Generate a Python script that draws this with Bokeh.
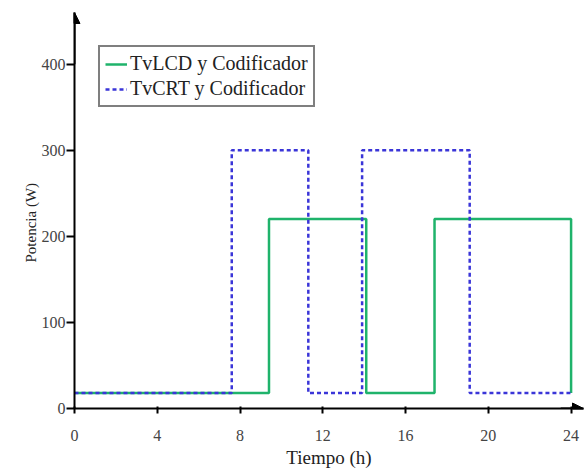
from bokeh.plotting import figure
from bokeh.models import Range1d, Arrow, NormalHead, Legend, LegendItem, FixedTicker, Title
from bokeh.embed import file_html
from bokeh.resources import INLINE

# Data (hours, watts)
lcd_t = [0, 9.4, 14.1, 17.4, 24]
lcd_p = [18, 220, 18, 220, 18]
crt_t = [0, 7.6, 11.3, 13.9, 19.1, 24]
crt_p = [18, 300, 18, 300, 18, 18]
x_ticks = [0, 4, 8, 12, 16, 20, 24]
y_ticks = [0, 100, 200, 300, 400]

FONT = "Liberation Serif"

p = figure(width=585, height=470, output_backend="svg", toolbar_location=None,
           x_range=Range1d(0, 24.6), y_range=Range1d(0, 460),
           min_border_left=74, min_border_right=2, min_border_top=12, min_border_bottom=61)
p.outline_line_color = None
p.grid.visible = False
p.background_fill_color = "white"

for ax in (p.xaxis[0], p.yaxis[0]):
    ax.axis_line_width = 2
    ax.axis_line_color = "black"
    ax.major_tick_line_color = "black"
    ax.major_tick_line_width = 2
    ax.minor_tick_line_color = None
    ax.major_label_text_font = FONT
    ax.major_label_text_font_size = "16px"
    ax.major_label_text_color = "#444444"
    ax.axis_label_text_font = FONT
    ax.axis_label_text_font_style = "normal"
    ax.axis_label_text_color = "#222222"

p.xaxis.ticker = FixedTicker(ticks=x_ticks)
p.yaxis.ticker = FixedTicker(ticks=y_ticks)
p.xaxis.major_tick_out = 5
p.xaxis.major_tick_in = 2
p.yaxis.major_tick_out = 8
p.yaxis.major_tick_in = 0
p.xaxis.major_label_standoff = 16
p.yaxis.major_label_standoff = 1
p.xaxis.axis_label = "Tiempo (h)"
p.xaxis.axis_label_text_font_size = "19px"
p.xaxis.axis_label_standoff = 3

p.add_layout(Title(text="Potencia (W)", align="left", offset=146,
                   text_font=FONT, text_font_size="15px", text_color="#222222",
                   text_font_style="normal", standoff=0), "left")

r1 = p.step(lcd_t, lcd_p, mode="after", line_color="#1fb36b", line_width=2.5)
r2 = p.step(crt_t, crt_p, mode="after", line_color="#3a35d8", line_width=2.5, line_dash="4 3")

# axis arrowheads
p.add_layout(Arrow(end=NormalHead(size=11, fill_color="black", line_color="black"),
                   line_color="black", line_width=2,
                   x_start=0, y_start=400, x_end=0, y_end=460))
p.add_layout(Arrow(end=NormalHead(size=11, fill_color="black", line_color="black"),
                   line_color="black", line_width=2,
                   x_start=23.5, y_start=0, x_end=24.6, y_end=0))

legend = Legend(items=[LegendItem(label="TvLCD y Codificador", renderers=[r1]),
                       LegendItem(label="TvCRT y Codificador", renderers=[r2])],
                location=(24, 301))
legend.label_text_font = FONT
legend.label_text_font_size = "20px"
legend.label_text_color = "#222222"
legend.border_line_color = "black"
legend.border_line_width = 2
legend.glyph_width = 22
legend.glyph_height = 22
legend.label_standoff = 3
legend.spacing = 2
legend.padding = 5
legend.margin = 0
legend.label_height = 22
p.add_layout(legend, "center")

open("out.html", "w").write(file_html(p, INLINE))
